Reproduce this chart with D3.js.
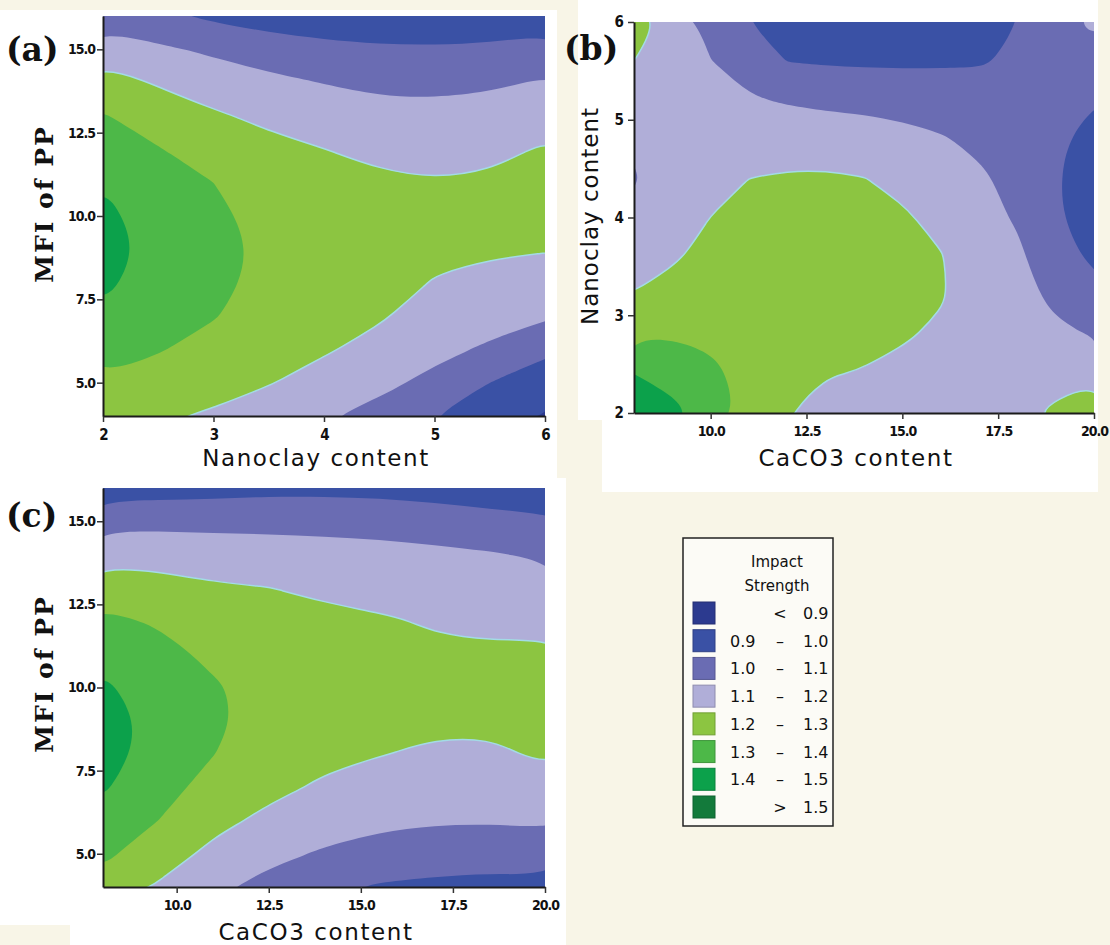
<!DOCTYPE html>
<html lang='en'>
<head>
  <meta charset='UTF-8'>
  <title>Impact strength contour plots</title>
  <style>
    * {
      margin: 0;
      padding: 0;
    }
    body {
      background: #f8f5e7;
    }
    #chart {
      width: 1110px;
      height: 945px;
    }
  </style>
</head>
<body>
<div id='chart'></div>
<script src='https://cdn.jsdelivr.net/npm/d3@7'></script>
<script>
  // contour levels of impact strength + legend rows
  const levels = [0.9, 1.0, 1.1, 1.2, 1.3, 1.4, 1.5]
  const bandColors = ['#2c3a8f', '#3a51a5', '#6a6cb3', '#b0aed8', '#8cc541', '#4db848', '#0ca14b', '#137a3b']
  const legendRows = [
    ['', '<', '0.9'], ['0.9', '–', '1.0'], ['1.0', '–', '1.1'], ['1.1', '–', '1.2'],
    ['1.2', '–', '1.3'], ['1.3', '–', '1.4'], ['1.4', '–', '1.5'], ['', '>', '1.5']
  ]

  // tick labels
  const nanoTicks = [2, 3, 4, 5, 6]
  const mfiTicks = [5, 7.5, 10, 12.5, 15]
  const caco3Ticks = [10, 12.5, 15, 17.5, 20]

  // (a) nanoclay (columns) vs MFI (rows, top -> bottom)
  const aNano = [2, 2.5, 3, 3.5, 4, 4.5, 5, 5.5, 6]
  const aMfi = [16, 15, 14, 13, 12, 11, 10, 9, 8, 7, 6, 5, 4]
  const aImpact = [
    [1.05, 1.02, 0.982, 0.955, 0.947, 0.942, 0.94, 0.942, 0.954],
    [1.158, 1.116, 1.083, 1.047, 1.023, 1.011, 1.009, 1.015, 1.034],
    [1.24, 1.192, 1.153, 1.124, 1.098, 1.079, 1.077, 1.087, 1.109],
    [1.307, 1.253, 1.212, 1.18, 1.15, 1.132, 1.127, 1.136, 1.159],
    [1.351, 1.305, 1.255, 1.225, 1.201, 1.178, 1.166, 1.18, 1.208],
    [1.395, 1.33, 1.3, 1.25, 1.225, 1.215, 1.205, 1.212, 1.232],
    [1.43, 1.345, 1.315, 1.277, 1.245, 1.232, 1.222, 1.222, 1.232],
    [1.455, 1.355, 1.322, 1.285, 1.255, 1.24, 1.215, 1.21, 1.205],
    [1.425, 1.345, 1.318, 1.28, 1.25, 1.232, 1.196, 1.177, 1.16],
    [1.379, 1.326, 1.305, 1.26, 1.235, 1.21, 1.16, 1.136, 1.111],
    [1.335, 1.306, 1.271, 1.235, 1.21, 1.17, 1.124, 1.087, 1.015],
    [1.29, 1.26, 1.231, 1.205, 1.163, 1.123, 1.076, 1.0, 0.96],
    [1.25, 1.21, 1.19, 1.15, 1.11, 1.07, 1.0, 0.93, 0.895]
  ]

  // (b) CaCO3 (columns) vs nanoclay (rows, top -> bottom)
  const bCaco3 = [8, 9, 10, 11, 12, 13, 14, 15, 16, 17, 18, 19, 20]
  const bNano = [6, 5.6, 5.2, 4.8, 4.4, 4, 3.6, 3.2, 2.8, 2.4, 2]
  const bImpact = [
    [1.25, 1.17, 1.06, 1.0, 0.94, 0.92, 0.91, 0.91, 0.92, 0.94, 1.0, 1.07, 1.12],
    [1.2, 1.155, 1.102, 1.056, 0.998, 0.99, 0.985, 0.985, 0.988, 0.992, 1.012, 1.05, 1.063],
    [1.154, 1.14, 1.127, 1.109, 1.092, 1.08, 1.076, 1.066, 1.056, 1.041, 1.034, 1.03, 1.006],
    [1.108, 1.13, 1.152, 1.155, 1.157, 1.151, 1.142, 1.127, 1.108, 1.08, 1.052, 1.015, 0.97],
    [1.095, 1.135, 1.176, 1.2, 1.21, 1.212, 1.202, 1.176, 1.142, 1.115, 1.071, 1.007, 0.953],
    [1.116, 1.15, 1.201, 1.225, 1.235, 1.236, 1.228, 1.212, 1.175, 1.135, 1.089, 1.01, 0.96],
    [1.159, 1.188, 1.228, 1.245, 1.252, 1.252, 1.246, 1.232, 1.205, 1.15, 1.12, 1.03, 0.985],
    [1.204, 1.238, 1.255, 1.258, 1.258, 1.25, 1.245, 1.235, 1.208, 1.158, 1.145, 1.07, 1.037],
    [1.291, 1.292, 1.283, 1.265, 1.25, 1.235, 1.225, 1.21, 1.185, 1.16, 1.16, 1.125, 1.093],
    [1.4, 1.361, 1.32, 1.272, 1.232, 1.205, 1.195, 1.175, 1.155, 1.16, 1.17, 1.17, 1.183],
    [1.5, 1.432, 1.35, 1.27, 1.205, 1.16, 1.15, 1.13, 1.13, 1.165, 1.18, 1.215, 1.25]
  ]

  // (c) CaCO3 (columns) vs MFI (rows, top -> bottom)
  const cCaco3 = [8, 9.5, 11, 12.5, 14, 15.5, 17, 18.5, 20]
  const cMfi = [16, 15, 14, 13, 12, 11, 10, 9, 8, 7, 6, 5, 4]
  const cImpact = [
    [0.955, 0.96, 0.965, 0.975, 0.975, 0.97, 0.955, 0.948, 0.941],
    [1.071, 1.072, 1.071, 1.073, 1.071, 1.067, 1.055, 1.032, 1.015],
    [1.169, 1.164, 1.152, 1.142, 1.134, 1.127, 1.118, 1.107, 1.088],
    [1.254, 1.233, 1.211, 1.201, 1.183, 1.168, 1.155, 1.145, 1.139],
    [1.321, 1.29, 1.246, 1.225, 1.222, 1.21, 1.192, 1.183, 1.185],
    [1.368, 1.33, 1.281, 1.248, 1.238, 1.228, 1.215, 1.212, 1.212],
    [1.415, 1.355, 1.31, 1.265, 1.245, 1.235, 1.225, 1.222, 1.22],
    [1.44, 1.37, 1.315, 1.268, 1.238, 1.225, 1.215, 1.213, 1.215],
    [1.44, 1.36, 1.302, 1.25, 1.22, 1.203, 1.188, 1.189, 1.21],
    [1.41, 1.34, 1.263, 1.222, 1.188, 1.163, 1.149, 1.148, 1.17],
    [1.368, 1.3, 1.225, 1.18, 1.141, 1.12, 1.109, 1.107, 1.114],
    [1.319, 1.246, 1.178, 1.124, 1.09, 1.063, 1.046, 1.042, 1.048],
    [1.27, 1.19, 1.12, 1.07, 1.025, 0.99, 0.98, 0.97, 0.975]
  ]

  const tickFont = "'DejaVu Sans Condensed', 'Liberation Sans Narrow', 'DejaVu Sans', sans-serif"
  const titleFont = "'DejaVu Sans', Verdana, sans-serif"
  const tagFont = "'DejaVu Serif', 'Liberation Serif', serif"

  let svg = d3.select('#chart')
  .append('svg')
  .attr('width', 1110)
  .attr('height', 945)

  // page background: cream with white panel areas
  svg.append('rect').attr('width', 1110).attr('height', 945).attr('fill', '#f8f5e7')
  svg.append('rect').attr('x', 0).attr('y', 10).attr('width', 557).attr('height', 470).attr('fill', '#fff')
  svg.append('rect').attr('x', 578).attr('y', 0).attr('width', 520).attr('height', 492).attr('fill', '#fff')
  svg.append('rect').attr('x', 557).attr('y', 420).attr('width', 45).attr('height', 72).attr('fill', '#f8f5e7')
  svg.append('rect').attr('x', 0).attr('y', 478).attr('width', 566).attr('height', 467).attr('fill', '#fff')
  svg.append('rect').attr('x', 0).attr('y', 925).attr('width', 70).attr('height', 20).attr('fill', '#f8f5e7')

  const panels = [
    {id: 'a', xs: aNano, ys: aMfi, z: aImpact, left: 103, right: 545, top: 16, bottom: 416,
      xTicks: nanoTicks, yTicks: mfiTicks, xFmt: d3.format('d'), yFmt: d3.format('.1f'),
      xSize: 15, ySize: 14, xTitle: 'Nanoclay content', yTitle: 'MFI of PP', ySerif: true,
      tag: '(a)', tagX: 6, tagY: 61, titleY: 466, yTitleX: 44, yTitleY: 204},
    {id: 'b', xs: bCaco3, ys: bNano, z: bImpact, left: 634, right: 1094, top: 22, bottom: 413,
      xTicks: caco3Ticks, yTicks: nanoTicks, xFmt: d3.format('.1f'), yFmt: d3.format('d'),
      xSize: 14, ySize: 15, xTitle: 'CaCO3 content', yTitle: 'Nanoclay content', ySerif: false,
      tag: '(b)', tagX: 564, tagY: 60, titleY: 466, yTitleX: 590, yTitleY: 216},
    {id: 'c', xs: cCaco3, ys: cMfi, z: cImpact, left: 103, right: 545, top: 488, bottom: 887,
      xTicks: caco3Ticks, yTicks: mfiTicks, xFmt: d3.format('.1f'), yFmt: d3.format('.1f'),
      xSize: 14, ySize: 14, xTitle: 'CaCO3 content', yTitle: 'MFI of PP', ySerif: true,
      tag: '(c)', tagX: 6, tagY: 527, titleY: 940, yTitleX: 44, yTitleY: 674}
  ]

  panels.forEach(drawPanel)

  function drawPanel (p) {
    let n = p.xs.length
    let m = p.ys.length
    let x = d3.scaleLinear().domain(d3.extent(p.xs)).range([p.left, p.right])
    let y = d3.scaleLinear().domain(d3.extent(p.ys)).range([p.bottom, p.top])
    // grid sample i sits at contour coordinate i + 0.5
    let gx = d3.scaleLinear().domain([0.5, n - 0.5]).range([x(p.xs[0]), x(p.xs[n - 1])])
    let gy = d3.scaleLinear().domain([0.5, m - 0.5]).range([y(p.ys[0]), y(p.ys[m - 1])])

    let bands = d3.contours().size([n, m]).thresholds(levels)(p.z.flat())
    let ring = d3.line()
    .x(d => gx(d[0]))
    .y(d => gy(d[1]))
    .curve(d3.curveBasisClosed)
    let shape = c => c.coordinates.map(poly => poly.map(r => ring(r.slice(0, -1))).join('')).join('')

    svg.append('clipPath').attr('id', 'clip-' + p.id)
    .append('rect')
    .attr('x', p.left).attr('y', p.top)
    .attr('width', p.right - p.left).attr('height', p.bottom - p.top)

    let plot = svg.append('g').attr('clip-path', 'url(#clip-' + p.id + ')')
    plot.append('rect')
    .attr('x', p.left).attr('y', p.top)
    .attr('width', p.right - p.left).attr('height', p.bottom - p.top)
    .attr('fill', bandColors[0])
    plot.selectAll('path.band')
    .data(bands)
    .join('path')
    .attr('class', 'band')
    .attr('d', shape)
    .attr('fill', (d, i) => bandColors[i + 1])
    .attr('fill-rule', 'evenodd')
    // light cyan edge on the 1.2 level
    plot.append('path')
    .attr('d', shape(bands[levels.indexOf(1.2)]))
    .attr('fill', 'none')
    .attr('stroke', '#a3dbe6')
    .attr('stroke-width', 1.5)

    // axes
    let xa = svg.append('g')
    .attr('transform', 'translate(0,' + p.bottom + ')')
    .call(d3.axisBottom(x).tickValues(p.xTicks).tickFormat(p.xFmt).tickSize(6).tickPadding(7).tickSizeOuter(0))
    let ya = svg.append('g')
    .attr('transform', 'translate(' + p.left + ',0)')
    .call(d3.axisLeft(y).tickValues(p.yTicks).tickFormat(p.yFmt).tickSize(6).tickPadding(p.id === 'b' ? 5 : 2).tickSizeOuter(0))
    ;[[xa, p.xSize], [ya, p.ySize]].forEach(([a, size]) => {
      a.attr('font-family', tickFont).attr('font-size', size).attr('font-weight', 'bold')
      a.select('.domain').attr('stroke', '#1b1b1b').attr('stroke-width', 2)
      a.selectAll('.tick line').attr('stroke', '#333').attr('stroke-width', 1.5)
      a.selectAll('.tick text').attr('fill', '#111').attr('letter-spacing', '-1px')
    })

    // titles
    svg.append('text')
    .attr('x', (p.left + p.right) / 2 - 8)
    .attr('y', p.titleY)
    .attr('text-anchor', 'middle')
    .attr('font-family', titleFont)
    .attr('font-size', 23)
    .attr('letter-spacing', '1.6px')
    .attr('fill', '#111')
    .text(p.xTitle)

    svg.append('text')
    .attr('transform', 'translate(' + p.yTitleX + ',' + p.yTitleY + ') rotate(-90)')
    .attr('text-anchor', 'middle')
    .attr('dominant-baseline', 'central')
    .attr('font-family', p.ySerif ? tagFont : titleFont)
    .attr('font-weight', p.ySerif ? 'bold' : 'normal')
    .attr('font-size', p.ySerif ? 25 : 23)
    .attr('letter-spacing', p.ySerif ? '2px' : '1px')
    .attr('fill', '#111')
    .text(p.yTitle)

    svg.append('text')
    .attr('x', p.tagX)
    .attr('y', p.tagY)
    .attr('font-family', tagFont)
    .attr('font-weight', 'bold')
    .attr('font-size', 33)
    .attr('fill', '#111')
    .text(p.tag)
  }

  // legend
  let legend = svg.append('g')
  legend.append('rect')
  .attr('x', 683).attr('y', 538).attr('width', 150).attr('height', 288)
  .attr('fill', '#fcfbf6').attr('stroke', '#222').attr('stroke-width', 1.5)
  legend.selectAll('text.head')
  .data(['Impact', 'Strength'])
  .join('text')
  .attr('class', 'head')
  .attr('x', 777)
  .attr('y', (d, i) => 567 + i * 24)
  .attr('text-anchor', 'middle')
  .attr('font-family', titleFont)
  .attr('font-size', 15)
  .attr('fill', '#111')
  .text(d => d)

  let rowY = d3.scaleLinear().domain([0, legendRows.length - 1]).range([613, 807])
  let rows = legend.selectAll('g.row')
  .data(legendRows)
  .join('g')
  .attr('class', 'row')
  .attr('transform', (d, i) => 'translate(0,' + rowY(i) + ')')
  rows.append('rect')
  .attr('x', 693).attr('y', -11).attr('width', 22).attr('height', 22)
  .attr('fill', (d, i) => bandColors[i])
  .attr('stroke', (d, i) => d3.color(bandColors[i]).darker(0.6))
  rows.selectAll('text')
  .data(d => d)
  .join('text')
  .attr('x', (d, i) => [730, 780, 803][i])
  .attr('y', 6)
  .attr('text-anchor', (d, i) => i === 1 ? 'middle' : 'start')
  .attr('font-family', titleFont)
  .attr('font-size', 16)
  .attr('fill', '#111')
  .text(d => d)
</script>
</body>
</html>
